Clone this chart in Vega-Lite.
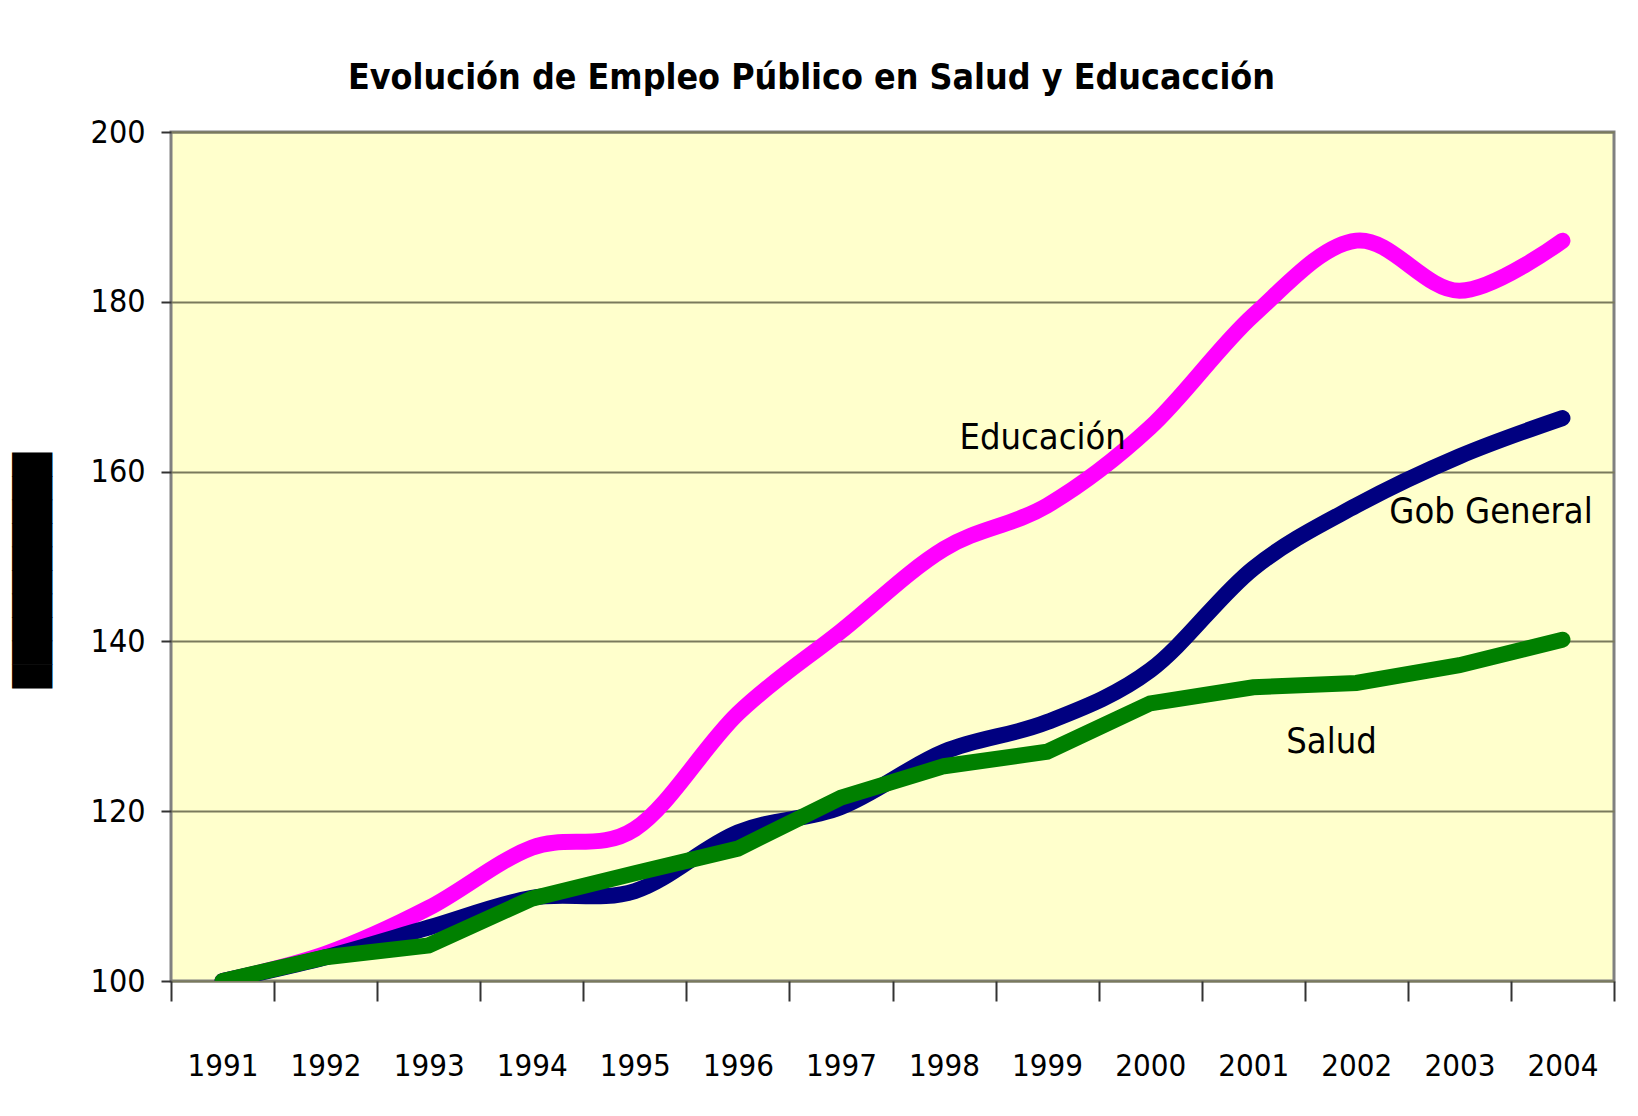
{
  "$schema": "https://vega.github.io/schema/vega-lite/v6.json",
  "autosize": {"type": "none"},
  "width": 1443,
  "height": 849,
  "padding": {"left": 171, "top": 132, "right": 24, "bottom": 135},
  "background": "white",
  "title": {
    "text": "Evolución de Empleo Público en Salud y Educacción",
    "font": "DejaVu Sans Condensed, sans-serif",
    "fontSize": 35.5,
    "fontWeight": "bold",
    "color": "black",
    "anchor": "middle",
    "frame": "group",
    "dx": -81,
    "dy": 32,
    "baseline": "alphabetic",
    "offset": 24
  },
  "config": {
    "view": {"fill": "#FFFFCC", "stroke": "#808080", "strokeWidth": 3},
    "font": "DejaVu Sans Condensed, sans-serif"
  },
  "datasets": {
    "series": [
      {"year": 1991, "serie": "Educación", "value": 100},
      {"year": 1992, "serie": "Educación", "value": 103.2},
      {"year": 1993, "serie": "Educación", "value": 108.6},
      {"year": 1994, "serie": "Educación", "value": 115.7},
      {"year": 1995, "serie": "Educación", "value": 117.9},
      {"year": 1996, "serie": "Educación", "value": 131.5},
      {"year": 1997, "serie": "Educación", "value": 141.2},
      {"year": 1998, "serie": "Educación", "value": 150.9},
      {"year": 1999, "serie": "Educación", "value": 156.0},
      {"year": 2000, "serie": "Educación", "value": 165.2},
      {"year": 2001, "serie": "Educación", "value": 178.4},
      {"year": 2002, "serie": "Educación", "value": 187.2},
      {"year": 2003, "serie": "Educación", "value": 181.3},
      {"year": 2004, "serie": "Educación", "value": 187.2},
      {"year": 1991, "serie": "Gob General", "value": 100},
      {"year": 1992, "serie": "Gob General", "value": 102.8},
      {"year": 1993, "serie": "Gob General", "value": 106.3},
      {"year": 1994, "serie": "Gob General", "value": 109.8},
      {"year": 1995, "serie": "Gob General", "value": 110.6},
      {"year": 1996, "serie": "Gob General", "value": 117.5},
      {"year": 1997, "serie": "Gob General", "value": 120.5},
      {"year": 1998, "serie": "Gob General", "value": 127.0},
      {"year": 1999, "serie": "Gob General", "value": 130.5},
      {"year": 2000, "serie": "Gob General", "value": 136.6},
      {"year": 2001, "serie": "Gob General", "value": 148.6},
      {"year": 2002, "serie": "Gob General", "value": 156.0},
      {"year": 2003, "serie": "Gob General", "value": 161.8},
      {"year": 2004, "serie": "Gob General", "value": 166.3},
      {"year": 1991, "serie": "Salud", "value": 100},
      {"year": 1992, "serie": "Salud", "value": 102.8},
      {"year": 1993, "serie": "Salud", "value": 104.2},
      {"year": 1994, "serie": "Salud", "value": 109.7},
      {"year": 1995, "serie": "Salud", "value": 112.7},
      {"year": 1996, "serie": "Salud", "value": 115.6},
      {"year": 1997, "serie": "Salud", "value": 121.6},
      {"year": 1998, "serie": "Salud", "value": 125.3},
      {"year": 1999, "serie": "Salud", "value": 127.0},
      {"year": 2000, "serie": "Salud", "value": 132.7},
      {"year": 2001, "serie": "Salud", "value": 134.6},
      {"year": 2002, "serie": "Salud", "value": 135.1},
      {"year": 2003, "serie": "Salud", "value": 137.2},
      {"year": 2004, "serie": "Salud", "value": 140.2}
    ],
    "etiquetas": [
      {"year": 1998.15, "value": 162.7, "label": "Educación"},
      {"year": 2002.32, "value": 153.9, "label": "Gob General"},
      {"year": 2001.32, "value": 126.8, "label": "Salud"}
    ]
  },
  "encoding": {
    "x": {
      "field": "year",
      "type": "quantitative",
      "scale": {"domain": [1990.5, 2004.5], "nice": false, "zero": false},
      "axis": {
        "title": null,
        "grid": false,
        "domain": false,
        "values": [1990.5, 1991, 1991.5, 1992, 1992.5, 1993, 1993.5, 1994, 1994.5, 1995, 1995.5, 1996, 1996.5, 1997, 1997.5, 1998, 1998.5, 1999, 1999.5, 2000, 2000.5, 2001, 2001.5, 2002, 2002.5, 2003, 2003.5, 2004, 2004.5],
        "labelExpr": "datum.value % 1 === 0 ? toString(datum.value) : ''",
        "labelOverlap": false,
        "labelFontSize": 31,
        "labelColor": "black",
        "labelPadding": 50,
        "tickSize": 20,
        "tickWidth": 2,
        "tickColor": "#333333",
        "tickOpacity": {"condition": {"test": "datum.value % 1 !== 0", "value": 1}, "value": 0}
      }
    },
    "y": {
      "field": "value",
      "type": "quantitative",
      "scale": {"domain": [100, 200], "nice": false, "zero": false},
      "axis": {
        "title": "██████████",
        "titleFontSize": 34,
        "titleColor": "black",
        "titleAngle": 270,
        "titleAlign": "center",
        "titleBaseline": "middle",
        "titleX": -138,
        "titleY": 438,
        "values": [100, 120, 140, 160, 180, 200],
        "domain": false,
        "grid": true,
        "gridColor": "#7a7a5c",
        "gridWidth": 2,
        "labelFontSize": 32,
        "labelColor": "black",
        "labelPadding": 16,
        "tickSize": 10,
        "tickWidth": 2,
        "tickColor": "#333333"
      }
    }
  },
  "layer": [
    {
      "data": {"name": "series"},
      "transform": [{"filter": "datum.serie === 'Educación'"}],
      "mark": {"type": "line", "interpolate": "cardinal", "strokeWidth": 16, "strokeCap": "round", "color": "#FF00FF", "clip": true}
    },
    {
      "data": {"name": "series"},
      "transform": [{"filter": "datum.serie === 'Gob General'"}],
      "mark": {"type": "line", "interpolate": "cardinal", "strokeWidth": 16, "strokeCap": "round", "color": "#000080", "clip": true}
    },
    {
      "data": {"name": "series"},
      "transform": [{"filter": "datum.serie === 'Salud'"}],
      "mark": {"type": "line", "interpolate": "linear", "strokeWidth": 16, "strokeCap": "round", "color": "#008000", "clip": true}
    },
    {
      "data": {"name": "etiquetas"},
      "mark": {"type": "text", "align": "left", "baseline": "alphabetic", "fontSize": 36, "color": "black"},
      "encoding": {"text": {"field": "label"}}
    }
  ]
}
